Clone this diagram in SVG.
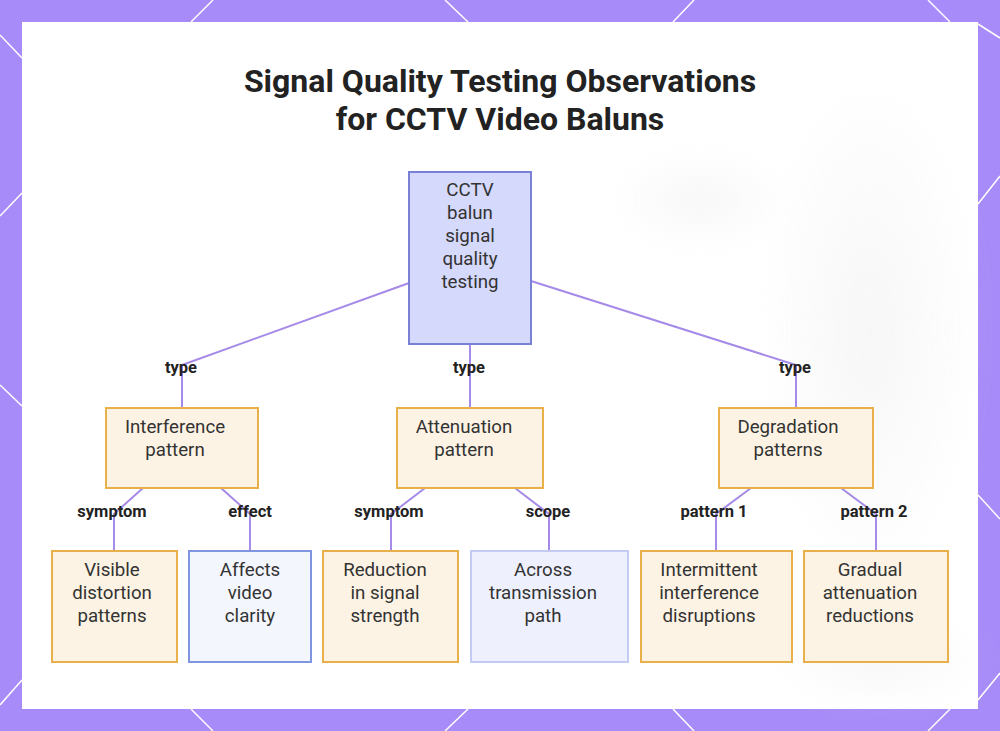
<svg xmlns="http://www.w3.org/2000/svg" width="1000" height="731" viewBox="0 0 1000 731">
  <defs>
    <style>
      .title { font-family: Roboto, "Liberation Sans", sans-serif; font-weight: 700; font-size: 32px; fill: #222222; text-anchor: middle; }
      .ntext { font-family: Roboto, "Liberation Sans", sans-serif; font-size: 18.7px; fill: #333333; text-anchor: middle; }
      .elabel { font-family: Roboto, "Liberation Sans", sans-serif; font-weight: 700; font-size: 16.5px; fill: #222222; text-anchor: middle; }
      .orange { fill: #fdf3e4; stroke: #e9b04a; stroke-width: 2; }
      .root { fill: #d5d9fb; stroke: #7a80d6; stroke-width: 2; }
      .blue { fill: #f4f6fe; stroke: #7f95e0; stroke-width: 2; }
      .lblue { fill: #eef1fd; stroke: #c3cbf2; stroke-width: 2; }
      .edge { fill: none; stroke: #a58ae8; stroke-width: 2; }
      .deco { stroke: #ffffff; stroke-width: 1.5; fill: none; }
    </style>
    <filter id="blur" x="-50%" y="-50%" width="200%" height="200%">
      <feGaussianBlur stdDeviation="14"/>
    </filter>
    <radialGradient id="shade" cx="0.5" cy="0.5" r="0.5">
      <stop offset="0" stop-color="#ececec" stop-opacity="0.8"/>
      <stop offset="1" stop-color="#ececec" stop-opacity="0"/>
    </radialGradient>
  </defs>

  <!-- background border -->
  <rect x="0" y="0" width="1000" height="731" fill="#a78bf8"/>
  <g class="deco">
    <line x1="213" y1="0" x2="191" y2="22"/>
    <line x1="445" y1="0" x2="468" y2="22"/>
    <line x1="694" y1="0" x2="673" y2="22"/>
    <line x1="928" y1="0" x2="950" y2="22"/>
    <line x1="191" y1="709" x2="213" y2="731"/>
    <line x1="468" y1="709" x2="445" y2="731"/>
    <line x1="673" y1="709" x2="694" y2="731"/>
    <line x1="950" y1="709" x2="928" y2="731"/>
    <line x1="0" y1="35" x2="22" y2="58"/>
    <line x1="22" y1="193" x2="0" y2="216"/>
    <line x1="0" y1="385" x2="22" y2="406"/>
    <line x1="22" y1="680" x2="0" y2="705"/>
    <line x1="978" y1="24" x2="1000" y2="38"/>
    <line x1="978" y1="204" x2="1000" y2="176"/>
    <line x1="978" y1="495" x2="1000" y2="519"/>
    <line x1="978" y1="700" x2="1000" y2="673"/>
  </g>

  <!-- panel -->
  <rect x="22" y="22" width="956" height="687" fill="#ffffff"/>
  <g filter="url(#blur)" opacity="0.55">
    <ellipse cx="870" cy="330" rx="110" ry="260" fill="url(#shade)"/>
    <ellipse cx="880" cy="660" rx="110" ry="45" fill="url(#shade)"/>
    <ellipse cx="700" cy="200" rx="90" ry="50" fill="url(#shade)"/>
  </g>

  <!-- title -->
  <text class="title" x="500" y="92">Signal Quality Testing Observations</text>
  <text class="title" x="500" y="130">for CCTV Video Baluns</text>

  <!-- connectors -->
  <g id="connectors">
    <polyline class="edge" points="409,283 182,365 182,408"/>
    <polyline class="edge" points="470,344 470,408"/>
    <polyline class="edge" points="531,281 796,365 796,408"/>
    <polyline class="edge" points="143,488 114,514 114,551"/>
    <polyline class="edge" points="221,488 250,514 250,551"/>
    <polyline class="edge" points="425,488 391,514 391,551"/>
    <polyline class="edge" points="515,488 549,514 549,551"/>
    <polyline class="edge" points="751,488 716,514 716,551"/>
    <polyline class="edge" points="841,488 876,514 876,551"/>
    <text class="elabel" x="181" y="373">type</text>
    <text class="elabel" x="469" y="373">type</text>
    <text class="elabel" x="795" y="373">type</text>
    <text class="elabel" x="112" y="517">symptom</text>
    <text class="elabel" x="250" y="517">effect</text>
    <text class="elabel" x="389" y="517">symptom</text>
    <text class="elabel" x="548" y="517">scope</text>
    <text class="elabel" x="714" y="517">pattern 1</text>
    <text class="elabel" x="874" y="517">pattern 2</text>
  </g>

  <!-- nodes -->
  <g id="root">
    <rect class="root" x="409" y="172" width="122" height="172"/>
    <text class="ntext" x="470" y="196">CCTV</text>
    <text class="ntext" x="470" y="219">balun</text>
    <text class="ntext" x="470" y="242">signal</text>
    <text class="ntext" x="470" y="265">quality</text>
    <text class="ntext" x="470" y="288">testing</text>
  </g>
  <g id="interference">
    <rect class="orange" x="106" y="408" width="152" height="80"/>
    <text class="ntext" x="175" y="433">Interference</text>
    <text class="ntext" x="175" y="456">pattern</text>
  </g>
  <g id="attenuation">
    <rect class="orange" x="397" y="408" width="146" height="80"/>
    <text class="ntext" x="464" y="433">Attenuation</text>
    <text class="ntext" x="464" y="456">pattern</text>
  </g>
  <g id="degradation">
    <rect class="orange" x="719" y="408" width="154" height="80"/>
    <text class="ntext" x="788" y="433">Degradation</text>
    <text class="ntext" x="788" y="456">patterns</text>
  </g>
  <g id="visible">
    <rect class="orange" x="52" y="551" width="125" height="111"/>
    <text class="ntext" x="112" y="576">Visible</text>
    <text class="ntext" x="112" y="599">distortion</text>
    <text class="ntext" x="112" y="622">patterns</text>
  </g>
  <g id="affects">
    <rect class="blue" x="189" y="551" width="122" height="111"/>
    <text class="ntext" x="250" y="576">Affects</text>
    <text class="ntext" x="250" y="599">video</text>
    <text class="ntext" x="250" y="622">clarity</text>
  </g>
  <g id="reduction">
    <rect class="orange" x="323" y="551" width="135" height="111"/>
    <text class="ntext" x="385" y="576">Reduction</text>
    <text class="ntext" x="385" y="599">in signal</text>
    <text class="ntext" x="385" y="622">strength</text>
  </g>
  <g id="across">
    <rect class="lblue" x="471" y="551" width="157" height="111"/>
    <text class="ntext" x="543" y="576">Across</text>
    <text class="ntext" x="543" y="599">transmission</text>
    <text class="ntext" x="543" y="622">path</text>
  </g>
  <g id="intermittent">
    <rect class="orange" x="641" y="551" width="151" height="111"/>
    <text class="ntext" x="709" y="576">Intermittent</text>
    <text class="ntext" x="709" y="599">interference</text>
    <text class="ntext" x="709" y="622">disruptions</text>
  </g>
  <g id="gradual">
    <rect class="orange" x="804" y="551" width="144" height="111"/>
    <text class="ntext" x="870" y="576">Gradual</text>
    <text class="ntext" x="870" y="599">attenuation</text>
    <text class="ntext" x="870" y="622">reductions</text>
  </g>
</svg>
